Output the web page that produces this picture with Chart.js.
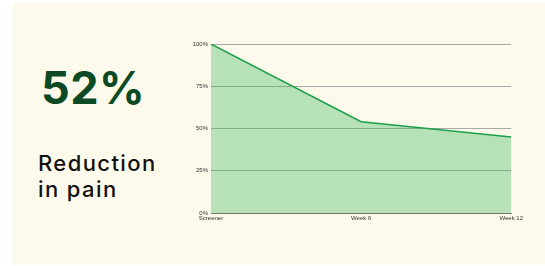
<!DOCTYPE html>
<html>
<head>
<meta charset="utf-8">
<script src="https://cdn.jsdelivr.net/npm/chart.js@4"></script>
<style>
  html, body { margin: 0; padding: 0; background: #ffffff; }
  body { width: 545px; height: 266px; position: relative; overflow: hidden; }
  .panel { position: absolute; left: 13px; top: 3px; right: 0; bottom: 1px; background: #fefaeb; }
  .big { position: absolute; left: 41px; top: 66px; font-family: Inter, sans-serif; font-weight: 700;
         font-size: 45px; line-height: 44px; color: #0b4a23; letter-spacing: 0.5px; }
  .sub { position: absolute; left: 38px; top: 150px; font-family: Inter, sans-serif; font-weight: 500;
         font-size: 22px; line-height: 26px; color: #111; letter-spacing: 1.4px; }
  .chart { position: absolute; left: 180px; top: 36px; width: 345px; height: 192px; }
</style>
</head>
<body>
<div class="panel"></div>
<div class="big">52%</div>
<div class="sub">Reduction<br>in pain</div>
<div class="chart"><canvas id="painChart"></canvas></div>
<script>
const labels = ['Screener', 'Week 6', 'Week 12'];
const painLevel = [100, 54, 45];   // % of screener pain
const yTicks = [0, 25, 50, 75, 100];

const ctx = document.getElementById('painChart').getContext('2d');
new Chart(ctx, {
  type: 'line',
  data: {
    labels,
    datasets: [{
      data: painLevel,
      borderColor: '#1c9f4b',
      borderWidth: 1.5,
      backgroundColor: 'rgba(52, 180, 90, 0.35)',
      fill: 'origin',
      tension: 0,
      pointRadius: 0
    }]
  },
  options: {
    responsive: true,
    maintainAspectRatio: false,
    animation: false,
    layout: { padding: { top: 8, right: 12, left: 0, bottom: 0 } },
    plugins: { legend: { display: false }, tooltip: { enabled: false } },
    scales: {
      x: {
        offset: false,
        grid: { display: false, drawTicks: false },
        border: { display: true, color: '#777', width: 1 },
        ticks: { color: '#333', font: { family: 'Liberation Sans', size: 6 }, padding: 2, maxRotation: 0, autoSkip: false },
        afterFit: s => { s.height = 15; }
      },
      y: {
        min: 0,
        max: 100,
        afterBuildTicks: s => { s.ticks = yTicks.map(v => ({ value: v })); },
        grid: { color: '#aaaaaa', lineWidth: 1, drawTicks: false },
        border: { display: false },
        ticks: {
          color: '#333',
          font: { family: 'Liberation Sans', size: 6 },
          padding: 3,
          callback: v => v + '%'
        },
        afterFit: s => { s.width = 31; }
      }
    }
  }
});
</script>
</body>
</html>
